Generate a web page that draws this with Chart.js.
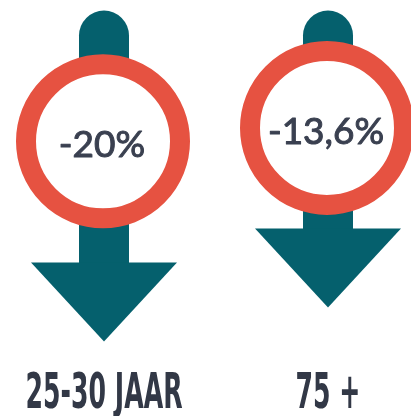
<!DOCTYPE html>
<html>
<head>
<meta charset="utf-8">
<script src="https://cdn.jsdelivr.net/npm/chart.js@4"></script>
<style>
  html, body { margin: 0; padding: 0; background: #fff; }
  #wrap { width: 411px; height: 416px; position: relative; }
</style>
</head>
<body>
<div id="wrap"><canvas id="arrows"></canvas></div>
<script>
const groups = ['25-30 JAAR', '75 +'];
const changes = [-20, -13.6];
const changeLabels = ['-20%', '-13,6%'];

const TEAL = '#05606d';
const RED = '#e65241';
const INK = '#3a4050';

// draws the arrows, rings and labels on top of the (invisible) bars
const arrowPlugin = {
    id: 'arrowPlugin',
    afterDatasetsDraw(chart) {
        const ctx = chart.ctx;
        const meta = chart.getDatasetMeta(0);
        meta.data.forEach((bar, i) => {
            const { x, y, base } = bar.getProps(['x', 'y', 'base'], true);
            const shaftHalf = 25;
            const headHalf = 73;
            const headH = 79;
            const headTop = y - headH;

            ctx.save();
            ctx.fillStyle = TEAL;
            ctx.beginPath();
            ctx.arc(x, base + shaftHalf, shaftHalf, Math.PI, 0);
            ctx.lineTo(x + shaftHalf, headTop + 1);
            ctx.lineTo(x - shaftHalf, headTop + 1);
            ctx.closePath();
            ctx.fill();

            ctx.beginPath();
            ctx.moveTo(x - headHalf, headTop);
            ctx.lineTo(x + headHalf, headTop);
            ctx.lineTo(x, y);
            ctx.closePath();
            ctx.fill();

            const cy = base + (y - base) * 0.395;
            ctx.beginPath();
            ctx.arc(x - 1, cy, 77, 0, Math.PI * 2);
            ctx.fillStyle = '#fff';
            ctx.fill();
            ctx.lineWidth = 20;
            ctx.strokeStyle = RED;
            ctx.stroke();

            // regular Lato, thickened a little with a thin outline
            ctx.fillStyle = INK;
            ctx.strokeStyle = INK;
            ctx.lineWidth = 1;
            ctx.lineJoin = 'round';
            ctx.font = '37px Lato';
            ctx.textAlign = 'center';
            ctx.textBaseline = 'middle';
            ctx.fillText(changeLabels[i], x - 2, cy + 4);
            ctx.strokeText(changeLabels[i], x - 2, cy + 4);
            ctx.restore();
        });

        // category labels in a narrow bold face under each arrow
        const xScale = chart.scales.x;
        groups.forEach((g, i) => {
            const px = xScale.getPixelForValue(i);
            ctx.save();
            ctx.translate(px, 395);
            ctx.scale(0.56, 1);
            ctx.fillStyle = '#323846';
            ctx.font = 'bold 50px "DejaVu Sans Condensed"';
            ctx.textAlign = 'center';
            ctx.textBaseline = 'middle';
            ctx.fillText(g, 0, 0);
            ctx.restore();
        });
    }
};

new Chart(document.getElementById('arrows'), {
    type: 'bar',
    data: {
        labels: groups,
        datasets: [{
            data: changes,
            base: 42.5,
            backgroundColor: 'rgba(0,0,0,0)',
            borderWidth: 0
        }]
    },
    options: {
        responsive: true,
        maintainAspectRatio: false,
        animation: false,
        layout: { padding: { left: 104, right: 83, top: 0, bottom: 56 } },
        plugins: { legend: { display: false }, tooltip: { enabled: false } },
        scales: {
            x: { display: false, offset: false },
            y: { display: false, min: -23.5, max: 44.5 }
        }
    },
    plugins: [arrowPlugin]
});
</script>
</body>
</html>
